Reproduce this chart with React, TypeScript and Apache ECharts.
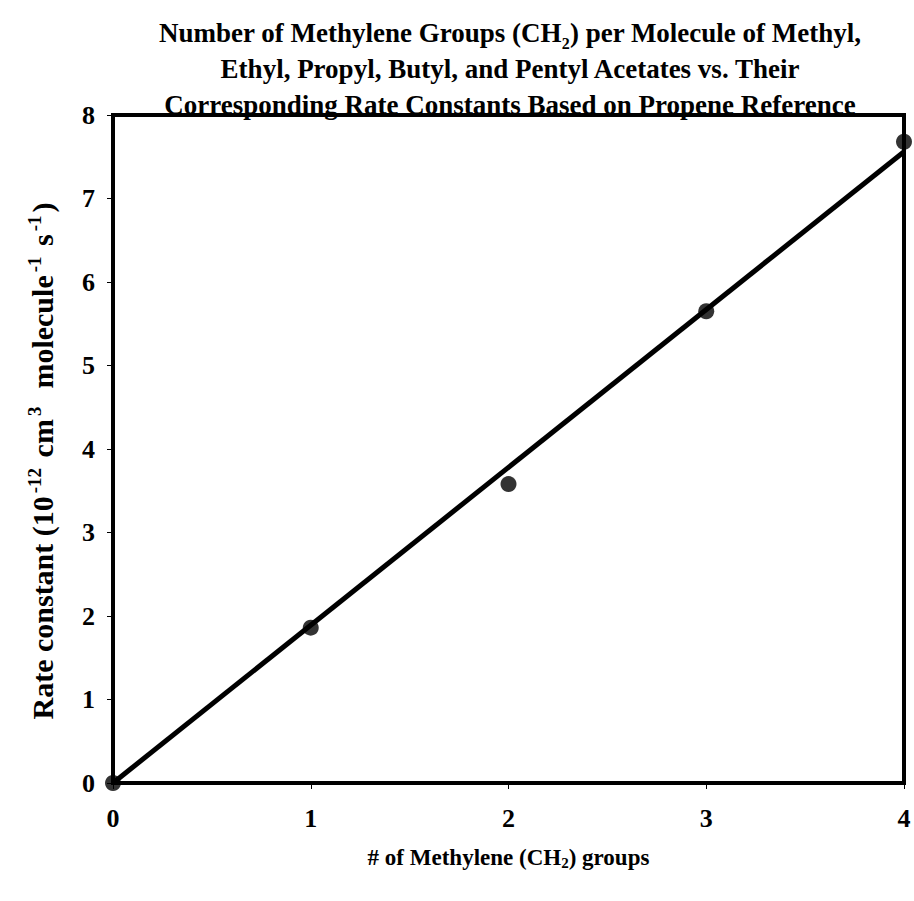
import React, { useEffect, useRef } from "react";
import * as echarts from "echarts";

const xValues = [0, 1, 2, 3, 4];
const yValues = [0, 1.86, 3.58, 5.65, 7.68];
const fitX = [0, 4];
const fitY = [0, 7.56];
const titleLines = [
  "Number of Methylene Groups (CH{sub|2}) per Molecule of Methyl,",
  "Ethyl, Propyl, Butyl, and Pentyl Acetates vs. Their",
  "Corresponding Rate Constants Based on Propene Reference",
];

const FONT = "'Liberation Serif', 'DejaVu Serif', serif";

export default function App() {
  const ref = useRef<HTMLDivElement>(null);
  useEffect(() => {
    if (!ref.current) return;
    const chart = echarts.init(ref.current, null, { renderer: "svg" });
    const base = { fontFamily: FONT, fontWeight: "bold" as const, color: "#000" };
    chart.setOption({
      animation: false,
      backgroundColor: "#fff",
      title: {
        text: titleLines.join("\n"),
        left: 505,
        textAlign: "center",
        top: 10,
        textStyle: {
          ...base,
          fontSize: 27,
          lineHeight: 36,
          rich: {
            sub: { ...base, fontSize: 16, verticalAlign: "bottom", lineHeight: 30 },
          },
        },
      },
      grid: {
        left: 113,
        right: 10,
        top: 115,
        bottom: 118,
        show: true,
        borderColor: "#000",
        borderWidth: 4,
      },
      xAxis: {
        type: "value",
        min: 0,
        max: 4,
        interval: 1,
        name: "# of Methylene (CH{sub|2}) groups",
        nameLocation: "middle",
        nameGap: 62,
        nameTextStyle: {
          ...base,
          fontSize: 23,
          rich: { sub: { ...base, fontSize: 15, verticalAlign: "bottom", padding: [10, 0, 0, 0] } },
        },
        axisLine: { lineStyle: { color: "#000", width: 4 } },
        axisTick: { lineStyle: { color: "#000", width: 1 }, length: 6 },
        axisLabel: { ...base, fontSize: 26, margin: 22 },
        splitLine: { show: false },
      },
      yAxis: {
        type: "value",
        min: 0,
        max: 8,
        interval: 1,
        name:
          "Rate constant (10{sup|-12} cm{sup|3}  molecule{sup|-1} s{sup|-1})",
        nameLocation: "middle",
        nameGap: 54,
        nameRotate: 90,
        nameTextStyle: {
          ...base,
          fontSize: 30,
          lineHeight: 34,
          padding: [0, 24, 0, 0],
          rich: {
            sup: { ...base, fontSize: 19, verticalAlign: "top", lineHeight: 34, padding: [0, 3, 12, 3] },
          },
        },
        axisLine: { lineStyle: { color: "#000", width: 4 } },
        axisTick: { lineStyle: { color: "#000", width: 1 }, length: 6 },
        axisLabel: { ...base, fontSize: 26, margin: 18 },
        splitLine: { show: false },
      },
      series: [
        {
          type: "line",
          data: fitX.map((x, i) => [x, fitY[i]]),
          showSymbol: false,
          lineStyle: { color: "#000", width: 5 },
          z: 2,
        },
        {
          type: "scatter",
          data: xValues.map((x, i) => [x, yValues[i]]),
          symbol: "circle",
          symbolSize: 16,
          itemStyle: { color: "#000" },
          z: 3,
        },
      ],
    });
    return () => chart.dispose();
  }, []);
  return (
    <div
      ref={ref}
      style={{ position: "fixed", left: 0, top: 0, width: 914, height: 901 }}
    />
  );
}
